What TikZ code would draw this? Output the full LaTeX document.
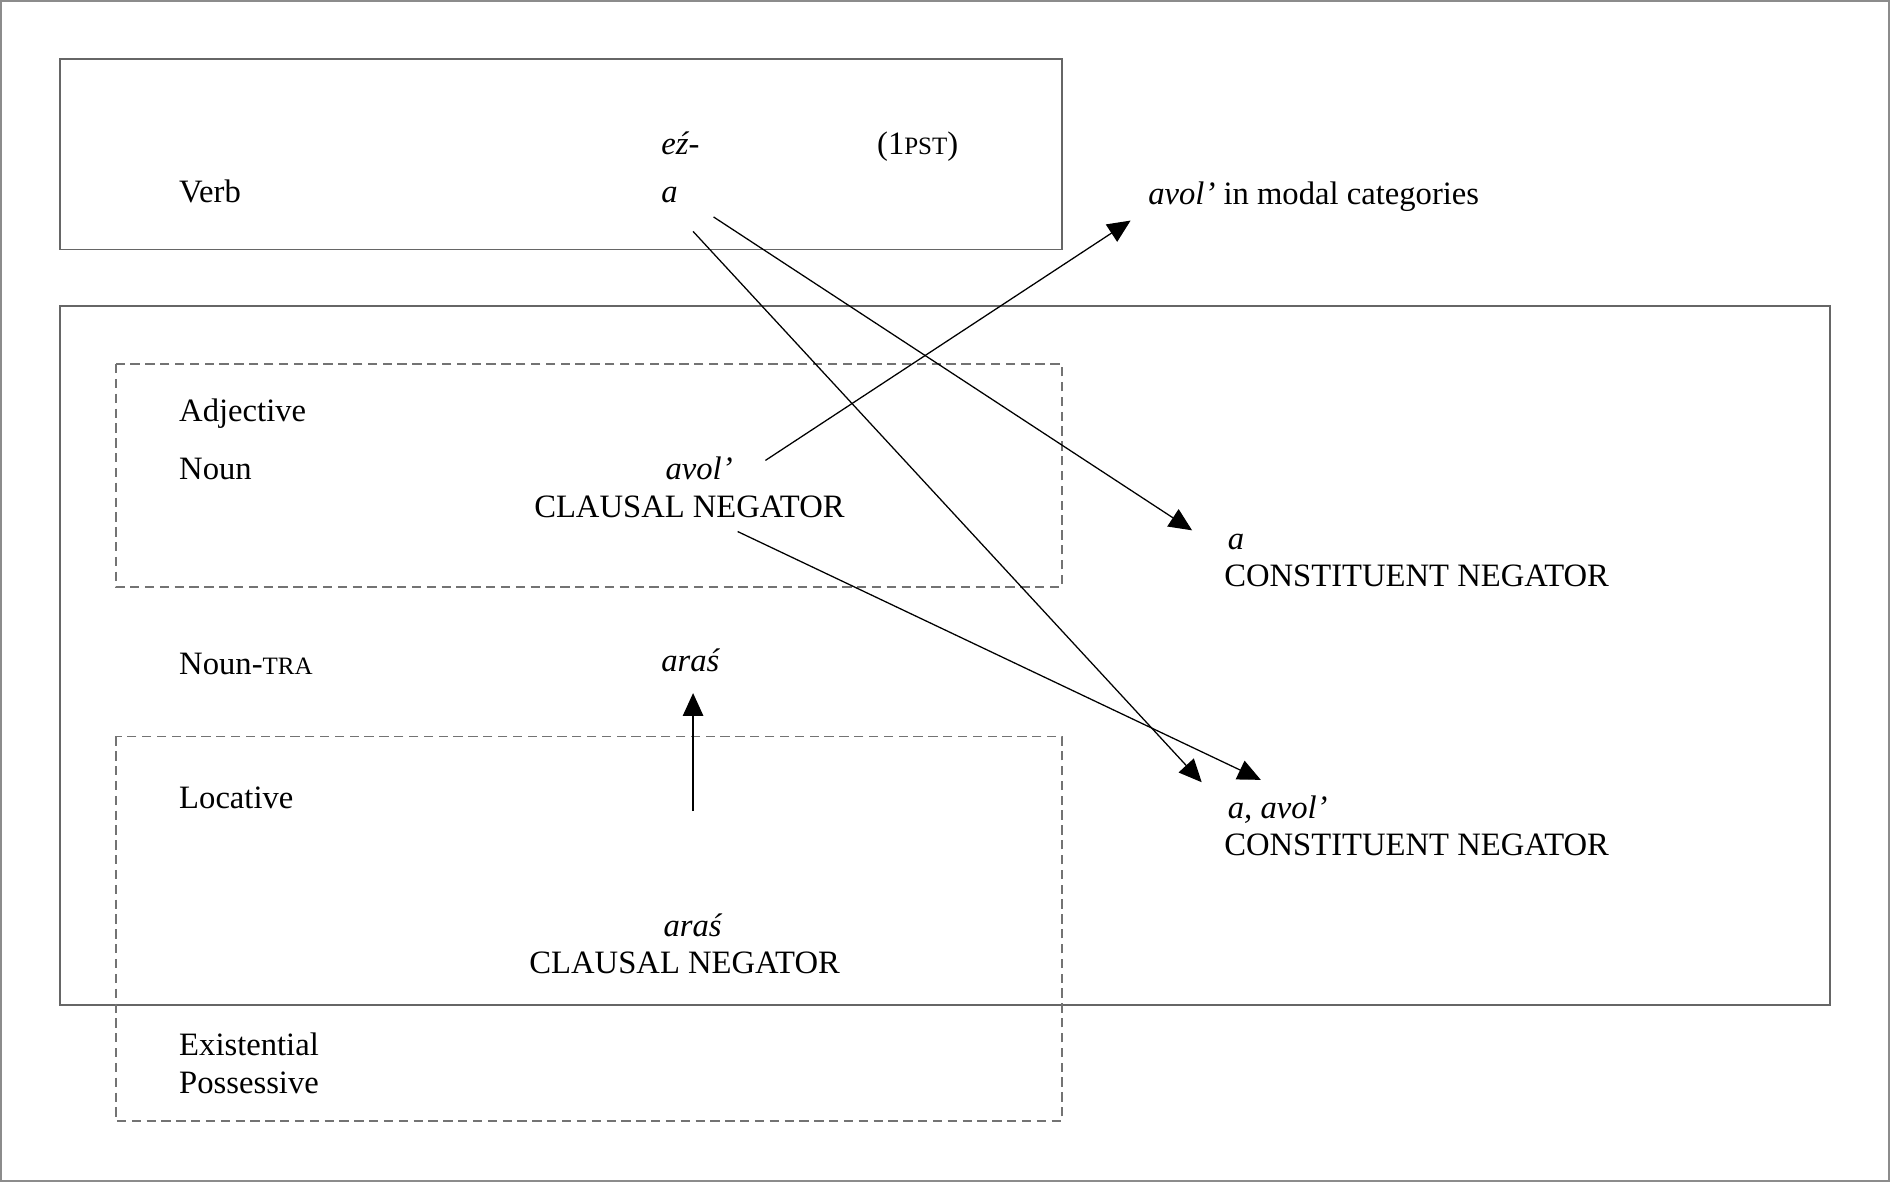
\documentclass[tikz,border=0pt]{standalone}
\usepackage{fontspec}
\setmainfont{Liberation Serif}
\usetikzlibrary{arrows.meta}
\newcommand{\smc}[1]{{\fontsize{5.9}{7}\selectfont #1}}

\begin{document}
\begin{tikzpicture}[x=0.01cm, y=-0.01cm, font=\fontsize{7.7}{9.3}\selectfont,
  frame/.style = {draw=black!60, line width=0.45pt},
  dashframe/.style = {draw=black!55, line width=0.45pt, dash pattern=on 2.2pt off 1.3pt}]
\useasboundingbox (0,0) rectangle (1568,980);
\draw[black!45, line width=0.5pt] (0.5,0.5) rectangle (1567.5,979.5);
\draw[frame] (50,49) rectangle (881,207);
\draw[frame] (50,254) rectangle (1518,834);
\draw[dashframe] (96,302) rectangle (881,487);
\draw[dashframe] (96,611) rectangle (881,930);
\begin{scope}[every node/.style = {inner sep=0pt, anchor=base west}]
\node (Verb) at (148,168) {Verb};
\node (ez) at (548,128) {\textit{eź-}};
\node (pst) at (727,128) {(1\smc{PST})};
\node (va) at (548,168) {\textit{a}};
\node (modal) at (952,170) {\textit{avol’} in modal categories};
\node (Adj) at (148,350) {Adjective};
\node (Noun) at (148,398) {Noun};
\node (ca) at (1018,456) {\textit{a}};
\node (cn1) at (1015,487) {CONSTITUENT NEGATOR};
\node (NounTra) at (148,560) {Noun-\smc{TRA}};
\node (Loc) at (148,671) {Locative};
\node (aavol) at (1018,679) {\textit{a, avol’}};
\node (cn2) at (1015,710) {CONSTITUENT NEGATOR};
\node (Exist) at (148,876) {Existential};
\node (Poss) at (148,907) {Possessive};
\end{scope}
\begin{scope}[every node/.style = {inner sep=0pt, anchor=base}]
\node (avol) at (580,398) {\textit{avol’}};
\node (cl1) at (572,429) {CLAUSAL NEGATOR};
\node (ar1) at (573,557) {\textit{araś}};
\node (ar2) at (575,777) {\textit{araś}};
\node (cl2) at (568,808) {CLAUSAL NEGATOR};
\end{scope}
\begin{scope}[every edge/.style = {draw, line width=0.3pt, -{Triangle[length=0.19cm, width=0.17cm]}}]
\path ([shift={(44,12)}]va.base west) edge ([shift={(-29,-16)}]ca.base west);
\path ([shift={(27,24)}]va.base west) edge ([shift={(-21,-30)}]aavol.base west);
\path ([shift={(55,-16)}]avol.base) edge ([shift={(-14,13)}]modal.base west);
\path ([shift={(40,12)}]cl1.base) edge ([shift={(28,-32)}]aavol.base west);
\path ([shift={(0,-104)}]ar2.base) edge ([shift={(2,18)}]ar1.base);
\end{scope}
\end{tikzpicture}
\end{document}
